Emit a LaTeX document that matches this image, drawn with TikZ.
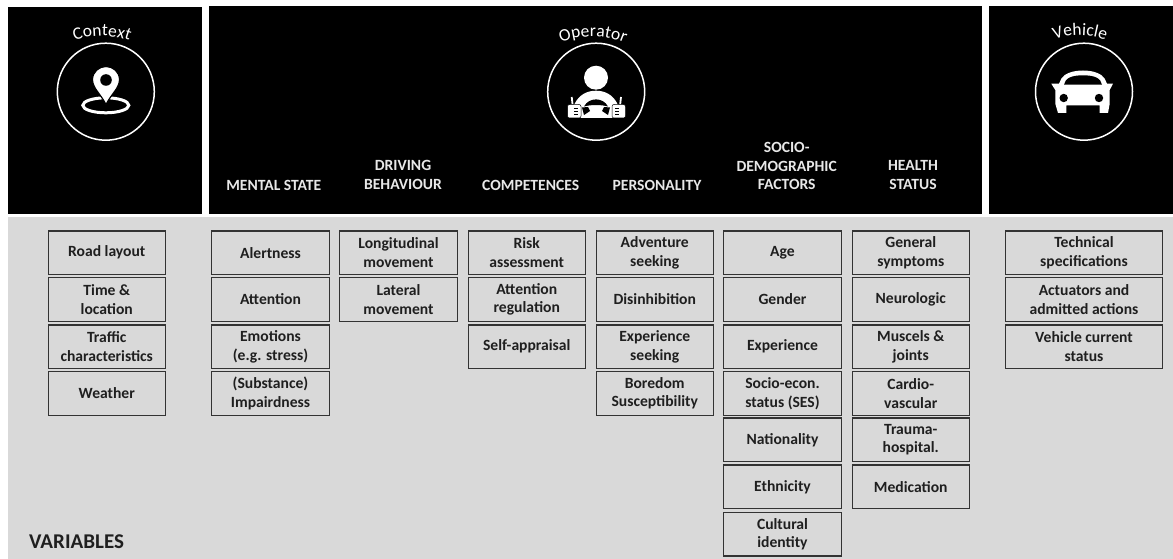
\documentclass[tikz,border=0pt]{standalone}
\usepackage{fontspec}
\setmainfont{Carlito}
\usepackage{xcolor}
\usetikzlibrary{decorations.text}

\definecolor{panelgray}{HTML}{D9D9D9}
\definecolor{boxline}{HTML}{333333}
\definecolor{boxtext}{HTML}{1F1F1F}
\definecolor{headtext}{HTML}{E8E8E8}

\newcommand{\arctext}{\fontsize{17.5}{20}\selectfont\color{white}}

\tikzset{
  varbox/.style={draw=boxline, line width=1.2pt, fill=panelgray, text=boxtext, minimum width=117.3pt, minimum height=43.6pt, inner sep=0pt, align=center, font=\fontsize{15.6}{18.5}\selectfont\bfseries},
  widebox/.style={varbox, minimum width=156.8pt},
  headlabel/.style={text=headtext, inner sep=0pt, align=center, font=\fontsize{15.6}{18.5}\selectfont\bfseries},
  ring/.style={circle, draw=white, line width=1.5pt, minimum size=97pt, inner sep=0pt},
  arclabel/.style={decorate, decoration={text along path, text align=center, text={|\arctext|#1}}}
}

\begin{document}
\begin{tikzpicture}[x=1pt,y=-1pt]
\useasboundingbox (0,0) rectangle (1173,559);

% panels
\fill[black] (8,7) rectangle (202,214);
\fill[black] (209,6) rectangle (982,214);
\fill[black] (989,6) rectangle (1173,214);
\fill[panelgray] (8,217) rectangle (1173,559);

% rings
\node[ring] (contextring) at (105.8,91.7) {};
\node[ring] (operatorring) at (596.2,91.7) {};
\node[ring] (vehiclering) at (1084,91.7) {};

\path[arclabel=Context] (60,48) .. controls (84,32) and (120,32) .. (144,48);
\path[arclabel=Operator] (549,50) .. controls (573,32) and (613,32) .. (637,50);
\path[arclabel=Vehicle] (1045,45) .. controls (1065,32) and (1095,32) .. (1115,45);

% pin
\draw[white, line width=3pt] (105.8,105.3) ellipse [x radius=23pt, y radius=7.5pt];
\fill[white, draw=black, line width=1.2pt] (106,104.5) .. controls (100,93) and (92.5,88) .. (92.5,79.5) .. controls (92.5,72) and (99,66.5) .. (106,66.5) .. controls (113,66.5) and (119.5,72) .. (119.5,79.5) .. controls (119.5,88) and (112,93) .. (106,104.5) -- cycle;
\fill[black] (106,80) circle [radius=5.8pt];

% driver
\fill[white] (596,77.7) circle [radius=12pt];
\fill[white] (574,105) .. controls (579,94) and (588,90.7) .. (596,90.7) .. controls (604,90.7) and (613,94) .. (618,105) -- (620,118) -- (573,118) -- cycle;
\fill[black] (584,106.5) .. controls (589,97) and (603,97) .. (608,106.5) .. controls (601,104.5) and (591,104.5) .. (584,106.5) -- cycle;
\fill[black] (582,107.5) -- (588,107) -- (590,111) -- (584,115) -- cycle;
\fill[black] (610,107.5) -- (604,107) -- (602,111) -- (608,115) -- cycle;
\fill[white, draw=black, line width=0.5pt, rounded corners=2pt] (567.5,104.5) rectangle (581,118);
\fill[white, draw=black, line width=0.5pt, rounded corners=2pt] (612,104.5) rectangle (625.5,118);
\draw[black, line width=0.5pt] (574,108.5) -- (578,108.5);
\draw[black, line width=0.5pt] (574,111.5) -- (578,111.5);
\draw[black, line width=0.5pt] (574,114.5) -- (578,114.5);
\draw[black, line width=0.5pt] (615,108.5) -- (619,108.5);
\draw[black, line width=0.5pt] (615,111.5) -- (619,111.5);
\draw[black, line width=0.5pt] (615,114.5) -- (619,114.5);
\draw[white, line width=1.8pt] (571.7,97) -- (572.5,104);
\draw[white, line width=1.8pt] (621,97) -- (620.2,104);

% car
\fill[white] (1051.3,83.7) -- (1059,83.7) -- (1061.3,78.7) .. controls (1064,74) and (1072,70.5) .. (1083,70.5) .. controls (1094,70.5) and (1102,74) .. (1104.7,78.7) -- (1107,83.7) -- (1113,83.7) -- (1109.7,90) -- (1109.7,103.7) -- (1108,113) -- (1099.7,113) -- (1099.7,105.3) -- (1066.3,105.3) -- (1066.3,113) -- (1058,113) -- (1055.3,103.7) -- (1055.3,90) -- cycle;
\fill[black] (1064,84.7) .. controls (1065,78) and (1072,75.3) .. (1083,75.3) .. controls (1094,75.3) and (1101,78) .. (1102,84.7) -- cycle;
\fill[black] (1063.7,98) circle [radius=4.2pt];
\fill[black] (1099,98) circle [radius=4.2pt];

% headings
\node[headlabel] (mentalhead) at (273.8,185) {MENTAL STATE};
\node[headlabel] (drivinghead) at (403,175) {DRIVING\\BEHAVIOUR};
\node[headlabel] (competencehead) at (530.7,185) {COMPETENCES};
\node[headlabel] (personalityhead) at (657,185) {PERSONALITY};
\node[headlabel] (sociohead) at (786.7,166) {SOCIO-\\DEMOGRAPHIC\\FACTORS};
\node[headlabel] (healthhead) at (913,175) {HEALTH\\STATUS};

% context
\node[varbox] (road) at (106.75,252.75) {Road layout};
\node[varbox] (timeloc) at (106.75,299.5) {Time \&\\location};
\node[varbox] (traffic) at (106.75,346.75) {Traffic\\characteristics};
\node[varbox] (weather) at (106.75,393.5) {Weather};

% mental state
\node[varbox] (alertness) at (270.5,252.75) {Alertness};
\node[varbox] (attention) at (270.5,299.5) {Attention};
\node[varbox] (emotions) at (270.5,346.75) {Emotions\\(e.g. stress)};
\node[varbox] (impairdness) at (270.5,393.5) {(Substance)\\Impairdness};

% driving behaviour
\node[varbox] (longitudinal) at (398.5,252.75) {Longitudinal\\movement};
\node[varbox] (lateral) at (398.5,299.5) {Lateral\\movement};

% competences
\node[varbox] (risk) at (526.75,252.75) {Risk\\assessment};
\node[varbox] (regulation) at (526.75,299.5) {Attention\\regulation};
\node[varbox] (appraisal) at (526.75,346.75) {Self-appraisal};

% personality
\node[varbox] (adventure) at (654.75,252.75) {Adventure\\seeking};
\node[varbox] (disinhibition) at (654.75,299.5) {Disinhibition};
\node[varbox] (expseeking) at (654.75,346.75) {Experience\\seeking};
\node[varbox] (boredom) at (654.75,393.5) {Boredom\\Susceptibility};

% socio-demographic
\node[varbox] (age) at (782.5,252.75) {Age};
\node[varbox] (gender) at (782.5,299.5) {Gender};
\node[varbox] (experience) at (782.5,346.75) {Experience};
\node[varbox] (ses) at (782.5,393.5) {Socio-econ.\\status (SES)};
\node[varbox] (nationality) at (782.5,439.75) {Nationality};
\node[varbox] (ethnicity) at (782.5,486.75) {Ethnicity};
\node[varbox] (cultural) at (782.5,534.25) {Cultural\\identity};

% health
\node[varbox] (symptoms) at (910.75,252.75) {General\\symptoms};
\node[varbox] (neurologic) at (910.75,299.5) {Neurologic};
\node[varbox] (muscels) at (910.75,346.75) {Muscels \&\\joints};
\node[varbox] (cardio) at (910.75,393.5) {Cardio-\\vascular};
\node[varbox] (trauma) at (910.75,439.75) {Trauma-\\hospital.};
\node[varbox] (medication) at (910.75,486.75) {Medication};

% vehicle
\node[widebox] (technical) at (1084,252.75) {Technical\\specifications};
\node[widebox] (actuators) at (1084,299.5) {Actuators and\\admitted actions};
\node[widebox] (status) at (1084,346.75) {Vehicle current\\status};

\node[anchor=west, inner sep=0pt, text=boxtext, font=\fontsize{21}{24}\selectfont\bfseries] (variables) at (29,541.7) {VARIABLES};

\end{tikzpicture}
\end{document}
